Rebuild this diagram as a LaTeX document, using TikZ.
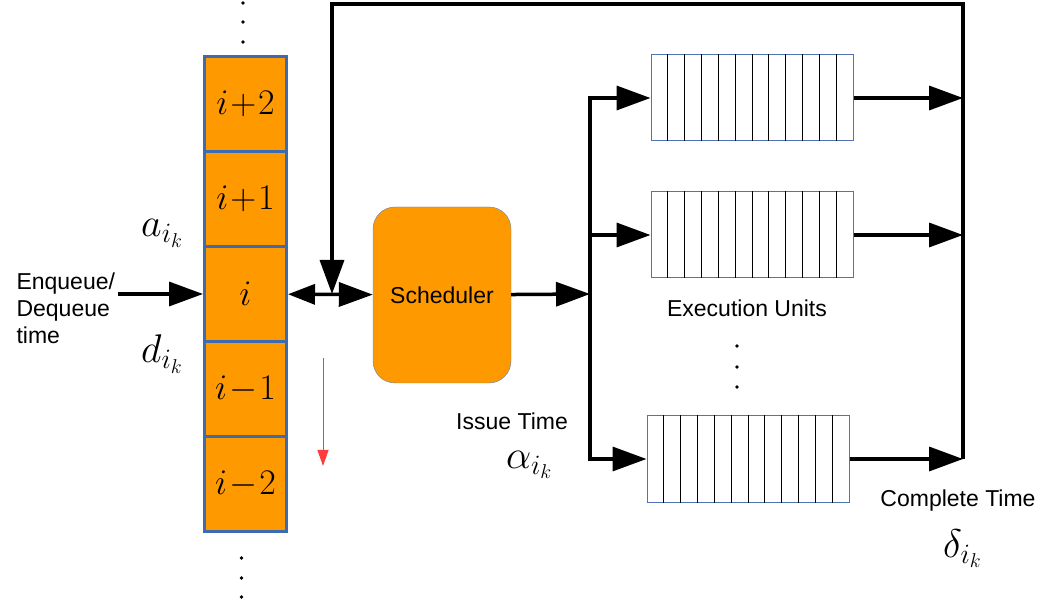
\RequirePackage{fix-cm}
\documentclass[tikz,border=0pt]{standalone}
\usepackage[no-math]{fontspec}
\setmainfont{Liberation Sans}
\usetikzlibrary{arrows.meta,calc,positioning}

\definecolor{qorange}{RGB}{255,153,0}
\definecolor{qblue}{RGB}{62,106,175}
\definecolor{sblue}{RGB}{100,130,180}
\definecolor{eublue}{RGB}{79,115,180}
\definecolor{downred}{RGB}{255,60,60}

\begin{document}
\begin{tikzpicture}[x=1pt,y=-1pt,
    wire/.style={line width=3.5pt},
    arr/.style={-{Triangle[length=34pt,width=24pt]}},
    cell/.style={draw=qblue,line width=3pt,fill=qorange,minimum width=82pt,
      minimum height=95pt,font=\fontsize{36}{40}\selectfont},
    eubox/.style={draw=eublue,line width=1pt,minimum width=202pt,minimum height=86pt},
    lbl/.style={font=\fontsize{23}{27}\selectfont},
    mlbl/.style={font=\fontsize{40}{44}\selectfont}]
    \useasboundingbox (0,0) rectangle (1042,609);

    % queue of entries
    \node[cell] (c2) at (245.5,104) {$i\!+\!2$};
    \node[cell] (c1) at (245.5,199) {$i\!+\!1$};
    \node[cell] (c0) at (245.5,294) {$i$};
    \node[cell] (cm1) at (245.5,389) {$i\!-\!1$};
    \node[cell] (cm2) at (245.5,484) {$i\!-\!2$};
    \foreach \y in {3,22,42} \fill (243,\y) circle (1.8);
    \foreach \y in {558,578,597} \fill (241.5,\y) circle (1.8);

    % scheduler
    \node[draw=sblue,fill=qorange,rounded corners=22pt,minimum width=138pt,
      minimum height=176pt,lbl] (sched) at (442,295) {Scheduler};

    % execution units
    \node[eubox] (eu1) at (752,98) {};
    \node[eubox] (eu2) at (752,235) {};
    \node[eubox] (eu3) at (748,459) {};
    \foreach \u in {eu1,eu2,eu3}
      \foreach \k in {1,...,11}
        \draw[line width=1pt] ($(\u.north west)!\k/12!(\u.north east)$)
          -- ($(\u.south west)!\k/12!(\u.south east)$);
    \foreach \y in {346,367,387} \fill (737,\y) circle (1.8);

    \coordinate (enq) at (118,294);
    \coordinate (sbus) at (590,294);
    \coordinate (fbk) at (332,4);
    \coordinate (rbus) at (963,4);
    \coordinate (rd1) at (323,358);
    \coordinate (rd2) at (323,466);

    \draw[wire,arr] (enq) -- (c0);
    \draw[wire,{Triangle[length=27pt,width=20pt]}-{Triangle[length=34pt,width=24pt]}]
      (c0) -- (sched);
    \draw[wire,arr] (sched) -- (sbus);
    \draw[wire,{Triangle[length=34pt,width=24pt]}-{Triangle[length=34pt,width=24pt]}]
      (eu1.west) -- (eu1.west -| sbus) -- (eu3.west -| sbus) -- (eu3.west);
    \draw[wire,arr] (eu2.west -| sbus) -- (eu2);
    \draw[wire,arr] (eu1) -- (eu1 -| rbus);
    \draw[wire,arr] (eu2) -- (eu2 -| rbus);
    \draw[wire,arr] (eu3) -- (eu3 -| rbus);
    \draw[wire,arr] (eu3 -| rbus) -- (rbus) -- (fbk) -- (fbk |- c0);
    \draw[downred,line width=1pt,-{Triangle[length=16pt,width=11pt]}] (rd1) -- (rd2);

    % labels
    \node[lbl,align=left,anchor=west] (enqlbl) at (13,308) {Enqueue/\\Dequeue\\time};
    \node[mlbl,anchor=base west,inner sep=0] (albl) at (141,237) {$a_{i_k}$};
    \node[mlbl,anchor=base west,inner sep=0] (dlbl) at (141,363) {$d_{i_k}$};
    \node[lbl] (eulbl) at (747,308) {Execution Units};
    \node[lbl,anchor=base] (isslbl) at (512,430) {Issue Time};
    \node[mlbl,anchor=base west,inner sep=0] (alphalbl) at (506,468) {$\alpha_{i_k}$};
    \node[lbl,anchor=base] (cmplbl) at (958,507) {Complete Time};
    \node[mlbl,anchor=base west,inner sep=0] (deltalbl) at (943,557) {$\delta_{i_k}$};
  \end{tikzpicture}
\end{document}
